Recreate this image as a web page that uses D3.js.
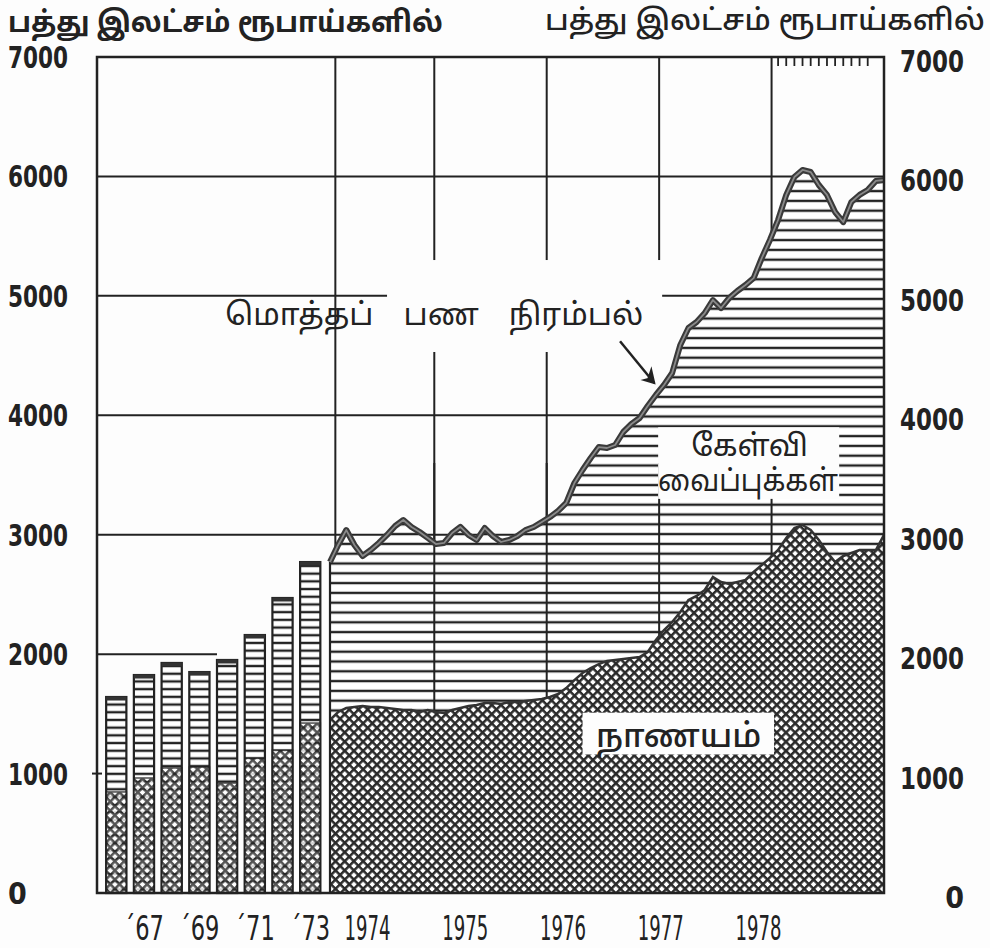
<!DOCTYPE html>
<html>
<head>
<meta charset="utf-8">
<script src="https://cdn.jsdelivr.net/npm/d3@7"></script>
<style>
  body { margin: 0; background: #fff; }
  text { fill: #222; }
</style>
</head>
<body>
<div id="chart"></div>
<script>
// yearly bars 1966-1973
var barYears = ["1966", "1967", "1968", "1969", "1970", "1971", "1972", "1973"];
var barLabels = { "1967": "´67", "1969": "´69", "1971": "´71", "1973": "´73" };
var barTotal = [1641, 1825, 1926, 1850, 1951, 2160, 2470, 2771];
var barCurrency = [846, 963, 1047, 1055, 921, 1130, 1197, 1423];

// monthly series from Jan 1974
var totalSupply = [2771, 2914, 3039, 2914, 2822, 2872, 2931, 2998, 3073, 3123, 3065, 3023,
                   2973, 2922, 2931, 3014, 3065, 2998, 2956, 3056, 2989, 2939, 2956, 2989,
                   3039, 3065, 3106, 3148, 3199, 3266, 3433, 3542, 3642, 3734, 3726, 3751,
                   3860, 3927, 3977, 4078, 4170, 4254, 4354, 4589, 4731, 4781, 4856, 4965,
                   4898, 4982, 5041, 5091, 5149, 5317, 5468, 5635, 5845, 5995, 6054, 6037,
                   5928, 5845, 5702, 5618, 5786, 5845, 5886, 5962, 5970];
var currency = [1449, 1516, 1549, 1557, 1566, 1557, 1557, 1549, 1541, 1532, 1532, 1516,
                1532, 1516, 1507, 1532, 1549, 1566, 1574, 1591, 1591, 1583, 1599, 1599,
                1608, 1616, 1624, 1641, 1666, 1716, 1783, 1842, 1884, 1917, 1943, 1951,
                1959, 1968, 1976, 2018, 2118, 2202, 2269, 2353, 2453, 2487, 2537, 2646,
                2604, 2587, 2604, 2621, 2688, 2746, 2805, 2872, 2973, 3056, 3081, 3039,
                2956, 2855, 2771, 2822, 2847, 2872, 2872, 2872, 2998];
var yearLabels = ["1974", "1975", "1976", "1977", "1978"];
var yTicks = [0, 1000, 2000, 3000, 4000, 5000, 6000, 7000];
var gridCols = [2.12, 3, 4, 5, 6];
var unitTitle = "பத்து இலட்சம் ரூபாய்களில்";

var W = 990, H = 948;
var plotL = 97, plotR = 884, plotT = 57, plotB = 893;
var ink = "#222";
var tamilFont = "'Noto Sans Tamil', 'Lohit Tamil', 'Noto Sans', sans-serif";
var numFont = "'DejaVu Sans Condensed', 'DejaVu Sans', sans-serif";

var svg = d3.select("#chart").append("svg")
    .attr("width", W).attr("height", H);
svg.append("rect").attr("width", W).attr("height", H).attr("fill", "#fdfdfd");

var y = d3.scaleLinear().domain([0, 7000]).range([plotB, plotT]);
var xBar = d3.scaleBand().domain(barYears).range([102, 324.5])
    .paddingInner(0.27).paddingOuter(0.15);
var xM = d3.scaleLinear().domain([0, totalSupply.length - 1]).range([330, plotR]);
var gx = d3.scaleLinear().domain([0, 7]).range([plotL, plotR]);

// patterns
var defs = svg.append("defs");
function hatch(id, gap) {
  var p = defs.append("pattern").attr("id", id)
      .attr("patternUnits", "userSpaceOnUse")
      .attr("width", 20).attr("height", gap);
  p.append("rect").attr("width", 20).attr("height", gap).attr("fill", "#fff");
  p.append("line").attr("x1", 0).attr("x2", 20).attr("y1", gap / 2).attr("y2", gap / 2)
      .attr("stroke", ink).attr("stroke-width", 2.4);
}
hatch("hatchArea", 9.8);
hatch("hatchBar", 7.7);
var cross = defs.append("pattern").attr("id", "cross")
    .attr("patternUnits", "userSpaceOnUse")
    .attr("width", 6.5).attr("height", 6.5)
    .attr("patternTransform", "rotate(45)");
cross.append("rect").attr("width", 6.5).attr("height", 6.5).attr("fill", "#fff");
cross.append("rect").attr("width", 6.5).attr("height", 2.5).attr("fill", "#2a2a2a");
cross.append("rect").attr("width", 2.5).attr("height", 6.5).attr("fill", "#2a2a2a");

// horizontal gridlines (drawn under the marks)
var grid = svg.append("g").attr("stroke", ink).attr("stroke-width", 2);
[2000, 3000, 4000, 5000, 6000].forEach(function (v) {
  var x2 = v === 2000 ? xBar("1970") : plotR;
  grid.append("line").attr("x1", plotL).attr("x2", x2)
      .attr("y1", y(v)).attr("y2", y(v));
});
grid.append("line").attr("x1", plotL - 5).attr("x2", plotL + 5)
    .attr("y1", y(1000)).attr("y2", y(1000));

// vertical gridlines in the white part
gridCols.forEach(function (c) {
  grid.append("line").attr("x1", gx(c)).attr("x2", gx(c))
      .attr("y1", plotT).attr("y2", c === 5 ? y(5200) : plotB);
});

// bars
var bars = svg.append("g");
barYears.forEach(function (yr, i) {
  bars.append("rect").attr("x", xBar(yr)).attr("width", xBar.bandwidth())
      .attr("y", y(barTotal[i])).attr("height", y(0) - y(barTotal[i]))
      .attr("fill", "url(#hatchBar)").attr("stroke", ink).attr("stroke-width", 2.2);
  bars.append("rect").attr("x", xBar(yr)).attr("width", xBar.bandwidth())
      .attr("y", y(barCurrency[i])).attr("height", y(0) - y(barCurrency[i]))
      .attr("fill", "url(#cross)").attr("stroke", ink).attr("stroke-width", 1.5)
      .attr("opacity", 0.8);
  bars.append("line").attr("x1", xBar(yr)).attr("x2", xBar(yr) + xBar.bandwidth())
      .attr("y1", y(barTotal[i]) + 1.5).attr("y2", y(barTotal[i]) + 1.5)
      .attr("stroke", "#333").attr("stroke-width", 4);
});

// monthly areas
var area = d3.area().x(function (d, i) { return xM(i); })
    .y0(y(0)).y1(function (d) { return y(d); });
var line = d3.line().x(function (d, i) { return xM(i); }).y(function (d) { return y(d); });

svg.append("path").datum(totalSupply).attr("d", area)
    .attr("fill", "url(#hatchArea)");

// vertical gridlines over the deposits hatch
var grid2 = svg.append("g").attr("stroke", ink).attr("stroke-width", 2);
gridCols.slice(1).forEach(function (c) {
  grid2.append("line").attr("x1", gx(c)).attr("x2", gx(c))
      .attr("y1", y(3600)).attr("y2", plotB);
});

svg.append("path").datum(currency).attr("d", area)
    .attr("fill", "url(#cross)");
svg.append("path").datum(currency).attr("d", line)
    .attr("fill", "none").attr("stroke", "#333").attr("stroke-width", 2.5);

// left edge of the monthly block
svg.append("line").attr("x1", xM(0)).attr("x2", xM(0))
    .attr("y1", y(totalSupply[0])).attr("y2", plotB)
    .attr("stroke", ink).attr("stroke-width", 2.2);

// total money supply line
svg.append("path").datum(totalSupply).attr("d", line)
    .attr("fill", "none").attr("stroke", "#3a3a3a").attr("stroke-width", 6)
    .attr("stroke-linejoin", "round");
svg.append("path").datum(totalSupply).attr("d", line)
    .attr("fill", "none").attr("stroke", "#8a8a8a").attr("stroke-width", 1.8)
    .attr("stroke-linejoin", "round");

// frame
svg.append("rect").attr("x", plotL).attr("y", plotT)
    .attr("width", plotR - plotL).attr("height", plotB - plotT)
    .attr("fill", "none").attr("stroke", ink).attr("stroke-width", 2.5);

// monthly ticks along the top, last year
svg.append("g").selectAll("line").data(d3.range(55, 67)).join("line")
    .attr("x1", function (d) { return xM(d); }).attr("x2", function (d) { return xM(d); })
    .attr("y1", plotT).attr("y2", plotT + 9)
    .attr("stroke", ink).attr("stroke-width", 1.8);

// label boxes
function whiteBox(x0, x1, v0, v1) {
  svg.append("rect").attr("x", x0).attr("y", y(v0))
      .attr("width", x1 - x0).attr("height", y(v1) - y(v0)).attr("fill", "#fdfdfd");
}
whiteBox(xM(7), gx(5) + 3, 5300, 4530);
whiteBox(gx(5) - 1, xM(62.5), 3900, 3300);
whiteBox(xM(31), xM(54.5), 1510, 1160);

svg.append("text").attr("x", xM(12.8)).attr("y", y(4760))
    .attr("text-anchor", "middle").attr("font-family", tamilFont)
    .attr("font-size", 31).attr("word-spacing", 22)
    .text("மொத்தப் பண நிரம்பல்");
svg.append("line").attr("x1", xM(35.6)).attr("x2", xM(39.8))
    .attr("y1", y(4620)).attr("y2", y(4270))
    .attr("stroke", ink).attr("stroke-width", 2.5);
svg.append("path")
    .attr("d", "M" + xM(39.8) + "," + y(4270) + "l-10,-3 l4,-1 l3,-9 z")
    .attr("fill", ink).attr("stroke", ink).attr("stroke-width", 2);

svg.append("text").attr("x", xM(51.5)).attr("y", y(3660))
    .attr("text-anchor", "middle").attr("font-family", tamilFont)
    .attr("font-size", 30).text("கேள்வி");
svg.append("text").attr("x", xM(51.3)).attr("y", y(3365))
    .attr("text-anchor", "middle").attr("font-family", tamilFont)
    .attr("font-size", 30).attr("textLength", 180).attr("lengthAdjust", "spacingAndGlyphs")
    .text("வைப்புக்கள்");
svg.append("text").attr("x", xM(42.8)).attr("y", y(1220))
    .attr("text-anchor", "middle").attr("font-family", tamilFont)
    .attr("font-size", 33).attr("font-weight", 500).text("நாணயம்");

// titles
svg.append("text").attr("x", 8).attr("y", 32)
    .attr("font-family", tamilFont).attr("font-size", 29).attr("font-weight", "bold")
    .attr("textLength", 435).attr("lengthAdjust", "spacingAndGlyphs")
    .text(unitTitle);
svg.append("text").attr("x", 545).attr("y", 30)
    .attr("font-family", tamilFont).attr("font-size", 29).attr("font-weight", 500)
    .attr("textLength", 440).attr("lengthAdjust", "spacingAndGlyphs")
    .text(unitTitle);

// y labels
var yl = svg.append("g").attr("font-family", numFont).attr("font-weight", "bold")
    .attr("font-size", 30);
yTicks.forEach(function (v) {
  var s = String(v);
  var t = yl.append("text").attr("x", 8).attr("y", y(v) + 11).text(s);
  if (s.length > 1) t.attr("textLength", 60).attr("lengthAdjust", "spacingAndGlyphs");
  var r = yl.append("text").attr("x", 964).attr("y", y(v) + 15)
      .attr("text-anchor", "end").text(s);
  if (s.length > 1) r.attr("textLength", 64).attr("lengthAdjust", "spacingAndGlyphs");
});

// x labels
var xl = svg.append("g").attr("font-family", numFont).attr("font-size", 34);
barYears.forEach(function (yr) {
  if (!barLabels[yr]) return;
  xl.append("text").attr("x", xBar(yr) + xBar.bandwidth() / 2).attr("y", 940)
      .attr("text-anchor", "middle")
      .attr("textLength", 40).attr("lengthAdjust", "spacingAndGlyphs")
      .text(barLabels[yr]);
});
yearLabels.forEach(function (yr, i) {
  xl.append("text").attr("x", xM(12 * i + 4.6)).attr("y", 940)
      .attr("text-anchor", "middle")
      .attr("textLength", 46).attr("lengthAdjust", "spacingAndGlyphs")
      .text(yr);
});
</script>
</body>
</html>
